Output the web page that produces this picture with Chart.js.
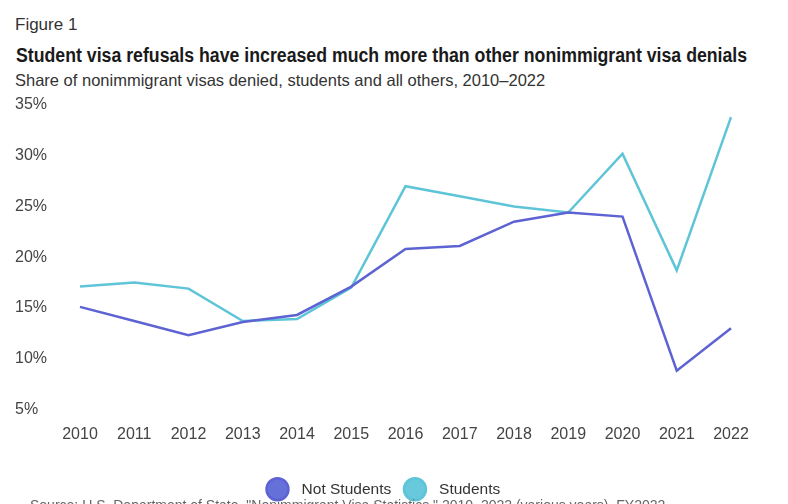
<!DOCTYPE html>
<html>
<head>
<meta charset="utf-8">
<script src="https://cdn.jsdelivr.net/npm/chart.js@4.4.1/dist/chart.umd.min.js"></script>
<style>
  html, body { margin: 0; padding: 0; background: #fff; overflow: hidden; }
  body { width: 788px; height: 504px; position: relative; font-family: "Liberation Sans", sans-serif; color: #222; }
  #fig { position: absolute; left: 15px; top: 15px; font-size: 17px; color: #333; }
  #title { position: absolute; left: 16px; top: 44px; font-size: 19.5px; font-weight: bold; color: #1a1a1a; white-space: nowrap; transform-origin: left center; }
  #sub { position: absolute; left: 15px; top: 71px; font-size: 16.5px; color: #333; white-space: nowrap; }
  #wrap { position: absolute; left: 0; top: 92px; width: 788px; height: 415px; }
  #source { position: absolute; left: 30px; top: 497px; font-size: 14px; color: #666; white-space: nowrap; }
</style>
</head>
<body>
<div id="fig">Figure 1</div>
<div id="title">Student visa refusals have increased much more than other nonimmigrant visa denials</div>
<div id="sub">Share of nonimmigrant visas denied, students and all others, 2010–2022</div>
<div id="wrap"><canvas id="visaChart"></canvas></div>
<div id="source">Source: U.S. Department of State, "Nonimmigrant Visa Statistics," 2010–2022 (various years), FY2022.</div>
<script>
// le titre est plus étroit dans l'original (police condensée)
var t = document.getElementById('title');
t.style.transform = 'scaleX(' + (731 / t.offsetWidth) + ')';

// années fiscales
var years = ['2010', '2011', '2012', '2013', '2014', '2015', '2016', '2017', '2018', '2019', '2020', '2021', '2022'];
// taux de refus (%)
var notStudents = [15.1, 13.7, 12.3, 13.6, 14.3, 17.1, 20.8, 21.1, 23.5, 24.4, 24.0, 8.8, 13.0];
var students = [17.1, 17.5, 16.9, 13.7, 13.9, 17.0, 27.0, 26.0, 25.0, 24.4, 30.2, 18.7, 33.8];

var tickFont = { family: '"Liberation Sans", sans-serif', size: 16 };

// décale la légende un peu vers la droite, comme dans l'original
var legendShift = {
    id: 'legendShift',
    afterLayout: function (chart) {
        chart.legend.left += 12;
        chart.legend.right += 12;
    }
};

var ctx = document.getElementById('visaChart').getContext('2d');
var myChart = new Chart(ctx, {
    type: 'line',
    data: {
        labels: years,
        datasets: [
            {
                label: 'Not Students',
                data: notStudents,
                borderColor: '#5d63d2',
                backgroundColor: '#6670d9',
                borderWidth: 2.5,
                pointRadius: 0,
                tension: 0
            },
            {
                label: 'Students',
                data: students,
                borderColor: '#5ec4d8',
                backgroundColor: '#68c8dc',
                borderWidth: 2.5,
                pointRadius: 0,
                tension: 0
            }
        ]
    },
    options: {
        responsive: true,
        maintainAspectRatio: false,
        animation: false,
        layout: { padding: { left: 15, right: 57, top: 13, bottom: 0 } },
        scales: {
            x: {
                grid: { display: false, drawTicks: false },
                border: { display: false },
                ticks: { color: '#444', font: tickFont, padding: 16, maxRotation: 0 },
                afterFit: function (scale) { scale.height += 5; }
            },
            y: {
                min: 5,
                max: 35,
                grid: { display: false, drawTicks: false },
                border: { display: false },
                ticks: {
                    stepSize: 5,
                    color: '#444',
                    font: tickFont,
                    crossAlign: 'far',
                    callback: function (v) { return v + '%'; }
                },
                afterFit: function (scale) { scale.width = 65; }
            }
        },
        plugins: {
            legend: {
                position: 'bottom',
                labels: {
                    usePointStyle: true,
                    pointStyle: 'circle',
                    boxWidth: 22,
                    boxHeight: 22,
                    padding: 16,
                    color: '#333',
                    font: { family: tickFont.family, size: 15.5 },
                    // un peu d'espace entre le rond et le texte
                    generateLabels: function (chart) {
                        var items = Chart.defaults.plugins.legend.labels.generateLabels(chart);
                        items.forEach(function (it) { it.text = '  ' + it.text; });
                        return items;
                    }
                }
            },
            tooltip: { enabled: false }
        }
    },
    plugins: [legendShift]
});
</script>
</body>
</html>
